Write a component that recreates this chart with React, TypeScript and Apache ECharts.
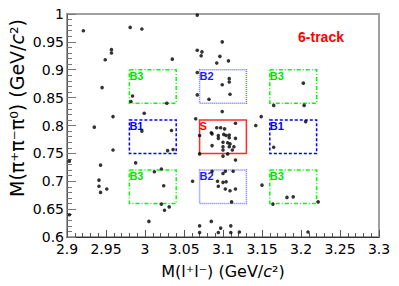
import React, { useEffect, useRef } from "react";
import * as echarts from "echarts";

// M(l+l-) values of the events (GeV/c^2)
const massLL = [
  2.921, 2.981, 2.996, 2.957, 2.957, 2.949, 3.035, 2.945, 2.984, 2.982, 3.028, 2.999, 2.959,
  3.067, 3.099, 3.067, 3.073, 3.072, 3.096, 3.107, 3.092, 3.067, 3.108, 3.108, 3.099, 3.067,
  3.109, 3.082, 3.203, 3.165, 3.204, 3.099, 3.065, 3.149, 3.116, 3.142, 3.206,
  2.935, 2.996, 3.034, 2.959, 3.029, 3.036, 2.903, 2.943, 2.988, 3.012, 3.021, 2.941, 2.941,
  3.024, 2.943, 2.951, 3.021, 3.031, 3.025, 2.903, 3.005,
  3.070, 3.092, 3.097, 3.102, 3.085, 3.086, 3.094, 3.094, 3.101, 3.104, 3.108, 3.108, 3.116,
  3.086, 3.100, 3.106, 3.109, 3.100, 3.108, 3.114, 3.100, 3.112, 3.106, 3.100, 3.070, 3.116,
  3.061, 3.086, 3.103, 3.113, 3.100, 3.093, 3.100, 3.104, 3.094, 3.103, 3.109, 3.116, 3.111,
  3.150, 3.165, 3.164, 3.182, 3.190, 3.222, 3.070, 3.085, 3.070, 3.097, 3.094, 3.110, 3.110,
  3.121, 3.209,
];
// M(pi+pi-pi0) values of the events (GeV/c^2)
const mass3Pi = [
  0.970, 0.976, 0.973, 0.936, 0.930, 0.918, 0.919, 0.868, 0.853, 0.843, 0.840, 0.822, 0.816,
  0.998, 0.950, 0.935, 0.932, 0.925, 0.924, 0.916, 0.912, 0.895, 0.884, 0.878, 0.873, 0.855,
  0.856, 0.847, 0.876, 0.836, 0.836, 0.825, 0.812, 0.816, 0.804, 0.800, 0.807,
  0.797, 0.790, 0.791, 0.756, 0.755, 0.757, 0.736, 0.729, 0.733, 0.717, 0.722, 0.702, 0.691,
  0.692, 0.680, 0.686, 0.659, 0.654, 0.648, 0.640, 0.628,
  0.782, 0.796, 0.796, 0.794, 0.787, 0.785, 0.782, 0.777, 0.784, 0.782, 0.783, 0.778, 0.777,
  0.764, 0.770, 0.769, 0.767, 0.762, 0.762, 0.762, 0.756, 0.756, 0.749, 0.745, 0.749, 0.738,
  0.700, 0.718, 0.718, 0.718, 0.714, 0.700, 0.698, 0.699, 0.691, 0.686, 0.683, 0.686, 0.663,
  0.693, 0.761, 0.659, 0.671, 0.672, 0.663, 0.620, 0.628, 0.608, 0.616, 0.608, 0.620, 0.608,
  0.609, 0.609,
];

// Signal / sideband regions
const boxNames = ["S", "B1", "B1", "B2", "B2", "B3", "B3", "B3", "B3"];
const boxXMin = [3.07, 2.98, 3.16, 3.07, 3.07, 2.98, 3.16, 2.98, 3.16];
const boxXMax = [3.13, 3.04, 3.22, 3.13, 3.13, 3.04, 3.22, 3.04, 3.22];
const boxYMin = [0.75, 0.75, 0.75, 0.84, 0.66, 0.84, 0.84, 0.66, 0.66];
const boxYMax = [0.81, 0.81, 0.81, 0.9, 0.72, 0.9, 0.9, 0.72, 0.72];

const channelLabel = "6-track";

const boxStyle: Record<string, { stroke: string; dash: number[] | null; text: string }> = {
  S: { stroke: "#ff2a2a", dash: null, text: "#ff0000" },
  B1: { stroke: "#0000ff", dash: [3, 2], text: "#0000ff" },
  B2: { stroke: "#7070ff", dash: [1, 1], text: "#1a1aff" },
  B3: { stroke: "#00ff00", dash: [4, 2, 1, 2], text: "#00e000" },
};

export default function App() {
  const ref = useRef<HTMLDivElement>(null);
  useEffect(() => {
    if (!ref.current) return;
    const chart = echarts.init(ref.current, null, { renderer: "svg" });
    const points = massLL.map((x, i) => [x, mass3Pi[i]]);
    const boxData = boxNames.map((_, i) => [boxXMin[i], boxXMax[i], boxYMin[i], boxYMax[i]]);
    const axisFont = "DejaVu Sans";
    chart.setOption({
      animation: false,
      backgroundColor: "#ffffff",
      grid: {
        left: 67,
        right: 20,
        top: 14,
        bottom: 49,
        show: true,
        borderColor: "#a0a0a0",
        borderWidth: 2,
        backgroundColor: "transparent",
      },
      xAxis: {
        type: "value",
        min: 2.9,
        max: 3.3,
        interval: 0.05,
        axisLine: { show: true, onZero: false, lineStyle: { color: "#333", width: 1 } },
        axisTick: { show: true, inside: true, length: 7, lineStyle: { color: "#555" } },
        minorTick: { show: true, splitNumber: 5, length: 4, lineStyle: { color: "#555" } },
        splitLine: { show: false },
        axisLabel: { color: "#000", fontFamily: axisFont, fontSize: 14, margin: 5 },
      },
      yAxis: {
        type: "value",
        min: 0.6,
        max: 1,
        interval: 0.05,
        axisLine: { show: true, onZero: false, lineStyle: { color: "#555", width: 1 } },
        axisTick: { show: true, inside: true, length: 9, lineStyle: { color: "#777" } },
        minorTick: { show: true, splitNumber: 5, length: 5, lineStyle: { color: "#777" } },
        splitLine: { show: false },
        axisLabel: { color: "#000", fontFamily: axisFont, fontSize: 14, margin: 3 },
      },
      graphic: [
        {
          type: "text",
          x: 17,
          y: 108,
          rotation: Math.PI / 2,
          style: {
            text: "{n|M(π⁺π⁻π⁰) (GeV/}{i|c}{n|²)}",
            align: "center",
            verticalAlign: "middle",
            fill: "#000",
            rich: {
              n: { fontFamily: axisFont, fontSize: 19, fill: "#000" },
              i: { fontFamily: axisFont, fontSize: 19, fontStyle: "italic", fill: "#000" },
            },
          },
        },
        {
          type: "text",
          x: 223,
          y: 271,
          style: {
            text: "{n|M(l⁺l⁻) (GeV/}{i|c}{n|²)}",
            align: "center",
            verticalAlign: "middle",
            fill: "#000",
            rich: {
              n: { fontFamily: axisFont, fontSize: 16, fill: "#000" },
              i: { fontFamily: axisFont, fontSize: 16, fontStyle: "italic", fill: "#000" },
            },
          },
        },
        {
          type: "text",
          x: 321,
          y: 37,
          style: {
            text: channelLabel,
            align: "center",
            verticalAlign: "middle",
            fill: "#ff0000",
            font: 'bold 14px "Liberation Sans"',
          },
        },
      ],
      series: [
        {
          type: "custom",
          coordinateSystem: "cartesian2d",
          encode: { x: [0, 1], y: [2, 3] },
          data: boxData,
          z: 3,
          renderItem: (params: any, api: any) => {
            const i = params.dataIndex;
            const tl = api.coord([boxXMin[i], boxYMax[i]]);
            const br = api.coord([boxXMax[i], boxYMin[i]]);
            const st = boxStyle[boxNames[i]];
            return {
              type: "group",
              children: [
                {
                  type: "rect",
                  shape: { x: tl[0], y: tl[1], width: br[0] - tl[0], height: br[1] - tl[1] },
                  style: {
                    fill: "none",
                    stroke: st.stroke,
                    lineWidth: 1.5,
                    lineDash: st.dash,
                  },
                },
                {
                  type: "text",
                  style: {
                    text: boxNames[i],
                    x: tl[0],
                    y: tl[1] + 0.5,
                    fill: st.text,
                    font: 'bold 11px "Liberation Sans"',
                    align: "left",
                    verticalAlign: "top",
                  },
                },
              ],
            };
          },
        },
        {
          type: "scatter",
          data: points,
          symbol: "circle",
          symbolSize: 3.6,
          itemStyle: { color: "#000" },
          z: 4,
        },
      ],
    });
    return () => chart.dispose();
  }, []);
  return (
    <div
      ref={ref}
      style={{ position: "fixed", left: 0, top: 0, width: 399, height: 286, background: "#fff" }}
    />
  );
}
